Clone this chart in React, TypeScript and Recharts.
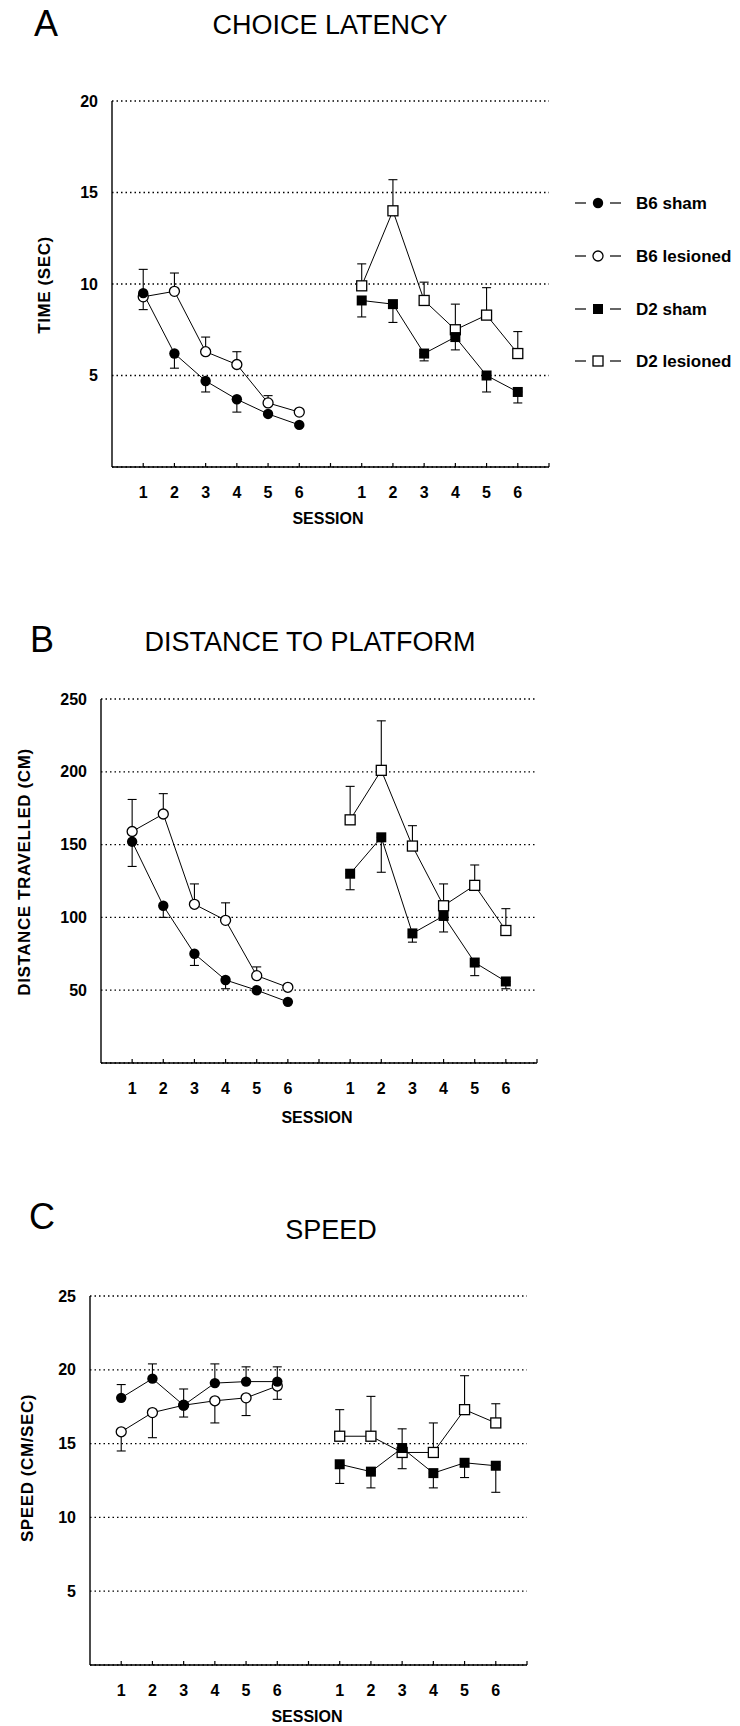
import React from "react";
import { LineChart, Line, XAxis, YAxis, CartesianGrid, ErrorBar } from "recharts";

const FONT = '"Liberation Sans", Arial, Helvetica, sans-serif';

// sessions 1-6 of the B6 block, an empty slot, then sessions 1-6 of the D2 block
const b6X = [1, 2, 3, 4, 5, 6];
const d2X = [8, 9, 10, 11, 12, 13];
const xTicks = [1, 2, 3, 4, 5, 6, 7, 8, 9, 10, 11, 12, 13, 14];
const xTickLabels = ["1", "2", "3", "4", "5", "6", "", "1", "2", "3", "4", "5", "6", ""];

// A - choice latency (sec)
const latTicks = [5, 10, 15, 20];
const latB6Sham = [9.5, 6.2, 4.7, 3.7, 2.9, 2.3];
const latB6ShamErr = [0.9, 0.8, 0.6, 0.7, 0, 0];
const latB6Les = [9.3, 9.6, 6.3, 5.6, 3.5, 3.0];
const latB6LesErr = [1.5, 1.0, 0.8, 0.7, 0.4, 0];
const latD2Sham = [9.1, 8.9, 6.2, 7.1, 5.0, 4.1];
const latD2ShamErr = [0.9, 1.0, 0.4, 0.7, 0.9, 0.6];
const latD2Les = [9.9, 14.0, 9.1, 7.5, 8.3, 6.2];
const latD2LesErr = [1.2, 1.7, 1.0, 1.4, 1.5, 1.2];

// B - distance travelled (cm)
const distTicks = [50, 100, 150, 200, 250];
const distB6Sham = [152, 108, 75, 57, 50, 42];
const distB6ShamErr = [17, 8, 8, 6, 0, 0];
const distB6Les = [159, 171, 109, 98, 60, 52];
const distB6LesErr = [22, 14, 14, 12, 6, 0];
const distD2Sham = [130, 155, 89, 101, 69, 56];
const distD2ShamErr = [11, 24, 6, 11, 9, 5];
const distD2Les = [167, 201, 149, 108, 122, 91];
const distD2LesErr = [23, 34, 14, 15, 14, 15];

// C - speed (cm/sec)
const speedTicks = [5, 10, 15, 20, 25];
const speedB6Sham = [18.1, 19.4, 17.6, 19.1, 19.2, 19.2];
const speedB6ShamErr = [0.9, 1.0, 1.1, 1.3, 1.0, 1.0];
const speedB6Les = [15.8, 17.1, 17.6, 17.9, 18.1, 18.9];
const speedB6LesErr = [1.3, 1.7, 0.8, 1.5, 1.2, 0.9];
const speedD2Sham = [13.6, 13.1, 14.7, 13.0, 13.7, 13.5];
const speedD2ShamErr = [1.3, 1.1, 1.4, 1.0, 1.0, 1.8];
const speedD2Les = [15.5, 15.5, 14.4, 14.4, 17.3, 16.4];
const speedD2LesErr = [1.8, 2.7, 1.6, 2.0, 2.3, 1.3];

const legendNames = ["B6 sham", "B6 lesioned", "D2 sham", "D2 lesioned"];

type Dir = "up" | "down";
const build = (xs: number[], ys: number[], err: number[], dir: Dir) =>
  ys.map((y, i) => ({ x: xs[i], y, e: dir === "up" ? [0, err[i]] : [err[i], 0] }));

type Shape = "filledCircle" | "openCircle" | "filledSquare" | "openSquare";

const Marker = ({ shape, cx, cy }: { shape: Shape; cx: number; cy: number }) => {
  if (shape === "filledCircle") return <circle cx={cx} cy={cy} r={5.2} fill="#000" />;
  if (shape === "openCircle")
    return <circle cx={cx} cy={cy} r={5} fill="#fff" stroke="#000" strokeWidth={1.3} />;
  if (shape === "filledSquare") return <rect x={cx - 5} y={cy - 5} width={10} height={10} fill="#000" />;
  return <rect x={cx - 5} y={cy - 5} width={10} height={10} fill="#fff" stroke="#000" strokeWidth={1.3} />;
};

const SessionTick = ({ x, y, payload }: any) => {
  const label = xTickLabels[xTicks.indexOf(payload.value)];
  return (
    <g>
      <line x1={x} y1={y} x2={x} y2={y - 4} stroke="#000" strokeWidth={1.2} />
      <text x={x} y={y + 31} textAnchor="middle" fontSize={16} fontWeight="bold" fontFamily={FONT} fill="#000">
        {label}
      </text>
    </g>
  );
};

interface SeriesDef {
  name: string;
  shape: Shape;
  data: { x: number; y: number; e: number[] }[];
}

interface PanelProps {
  top: number;
  height: number;
  margin: { top: number; right: number; bottom: number; left: number };
  yMax: number;
  yTicks: number[];
  series: SeriesDef[];
}

function Panel({ top, height, margin, yMax, yTicks, series }: PanelProps) {
  return (
    <div style={{ position: "absolute", left: 0, top }}>
      <LineChart width={740} height={height} margin={margin}>
        <CartesianGrid vertical={false} stroke="#000" strokeWidth={1.3} strokeDasharray="1.5 3" />
        <XAxis
          type="number"
          dataKey="x"
          domain={[0, 14]}
          ticks={xTicks}
          interval={0}
          allowDataOverflow
          height={60}
          tickLine={false}
          tickSize={0}
          tickMargin={0}
          tick={<SessionTick />}
          axisLine={{ stroke: "#000", strokeWidth: 1.4 }}
        />
        <YAxis
          type="number"
          domain={[0, yMax]}
          ticks={yTicks}
          interval={0}
          allowDataOverflow
          width={60}
          tickLine={false}
          tickMargin={8}
          axisLine={{ stroke: "#000", strokeWidth: 1.4 }}
          tick={{ fill: "#000", fontSize: 16, fontWeight: "bold", fontFamily: FONT }}
        />
        {series.map((s) => (
          <Line
            key={s.name}
            data={s.data}
            dataKey="y"
            name={s.name}
            stroke="#000"
            strokeWidth={1}
            isAnimationActive={false}
            activeDot={false}
            dot={(p: any) => <Marker key={`${s.name}-${p.index}`} shape={s.shape} cx={p.cx} cy={p.cy} />}
          >
            <ErrorBar dataKey="e" direction="y" width={4.5} stroke="#000" strokeWidth={1.1} isAnimationActive={false} />
          </Line>
        ))}
      </LineChart>
    </div>
  );
}

const textAt = (x: number, y: number, size: number, bold: boolean, rotate = false): React.CSSProperties => ({
  position: "absolute",
  left: x,
  top: y,
  transform: `translate(-50%, -50%)${rotate ? " rotate(-90deg)" : ""}`,
  fontSize: size,
  fontWeight: bold ? "bold" : "normal",
  lineHeight: 1,
  whiteSpace: "nowrap",
  letterSpacing: bold && rotate ? 0.6 : 0,
});

const legendShapes: Shape[] = ["filledCircle", "openCircle", "filledSquare", "openSquare"];
const legendRows = [203, 256, 309, 361];

export default function App() {
  const latency: SeriesDef[] = [
    { name: "B6 lesioned", shape: "openCircle", data: build(b6X, latB6Les, latB6LesErr, "up") },
    { name: "B6 sham", shape: "filledCircle", data: build(b6X, latB6Sham, latB6ShamErr, "down") },
    { name: "D2 lesioned", shape: "openSquare", data: build(d2X, latD2Les, latD2LesErr, "up") },
    { name: "D2 sham", shape: "filledSquare", data: build(d2X, latD2Sham, latD2ShamErr, "down") },
  ];
  const distance: SeriesDef[] = [
    { name: "B6 lesioned", shape: "openCircle", data: build(b6X, distB6Les, distB6LesErr, "up") },
    { name: "B6 sham", shape: "filledCircle", data: build(b6X, distB6Sham, distB6ShamErr, "down") },
    { name: "D2 lesioned", shape: "openSquare", data: build(d2X, distD2Les, distD2LesErr, "up") },
    { name: "D2 sham", shape: "filledSquare", data: build(d2X, distD2Sham, distD2ShamErr, "down") },
  ];
  const speed: SeriesDef[] = [
    { name: "B6 lesioned", shape: "openCircle", data: build(b6X, speedB6Les, speedB6LesErr, "down") },
    { name: "B6 sham", shape: "filledCircle", data: build(b6X, speedB6Sham, speedB6ShamErr, "up") },
    { name: "D2 lesioned", shape: "openSquare", data: build(d2X, speedD2Les, speedD2LesErr, "up") },
    { name: "D2 sham", shape: "filledSquare", data: build(d2X, speedD2Sham, speedD2ShamErr, "down") },
  ];

  return (
    <div
      style={{
        position: "absolute",
        left: 0,
        top: 0,
        width: 740,
        height: 1726,
        background: "#fff",
        overflow: "hidden",
        fontFamily: FONT,
        color: "#000",
      }}
    >
      {/* A */}
      <div style={textAt(46, 24, 36, false)}>A</div>
      <div style={textAt(330, 25, 27, false)}>CHOICE LATENCY</div>
      <Panel
        top={0}
        height={540}
        margin={{ top: 101, right: 191, bottom: 13, left: 52 }}
        yMax={20}
        yTicks={latTicks}
        series={latency}
      />
      <div style={textAt(44, 285, 17, true, true)}>TIME (SEC)</div>
      <div style={textAt(328, 519, 16, true)}>SESSION</div>

      <svg width={740} height={400} style={{ position: "absolute", left: 0, top: 0 }}>
        {legendNames.map((n, i) => (
          <g key={n}>
            <line x1={575} x2={586} y1={legendRows[i]} y2={legendRows[i]} stroke="#000" strokeWidth={1.2} />
            <line x1={610} x2={621} y1={legendRows[i]} y2={legendRows[i]} stroke="#000" strokeWidth={1.2} />
            <Marker shape={legendShapes[i]} cx={598} cy={legendRows[i]} />
            <text x={636} y={legendRows[i] + 6} fontSize={17} fontWeight="bold" fontFamily={FONT} fill="#000">
              {n}
            </text>
          </g>
        ))}
      </svg>

      {/* B */}
      <div style={textAt(42, 640, 36, false)}>B</div>
      <div style={textAt(310, 642, 27, false)}>DISTANCE TO PLATFORM</div>
      <Panel
        top={600}
        height={540}
        margin={{ top: 99, right: 203, bottom: 17, left: 41 }}
        yMax={250}
        yTicks={distTicks}
        series={distance}
      />
      <div style={textAt(24, 872, 17, true, true)}>DISTANCE TRAVELLED (CM)</div>
      <div style={textAt(317, 1118, 16, true)}>SESSION</div>

      {/* C */}
      <div style={textAt(42, 1217, 36, false)}>C</div>
      <div style={textAt(331, 1230, 27, false)}>SPEED</div>
      <Panel
        top={1190}
        height={536}
        margin={{ top: 106, right: 213, bottom: 1, left: 30 }}
        yMax={25}
        yTicks={speedTicks}
        series={speed}
      />
      <div style={textAt(27, 1468, 17, true, true)}>SPEED (CM/SEC)</div>
      <div style={textAt(307, 1717, 16, true)}>SESSION</div>
    </div>
  );
}
